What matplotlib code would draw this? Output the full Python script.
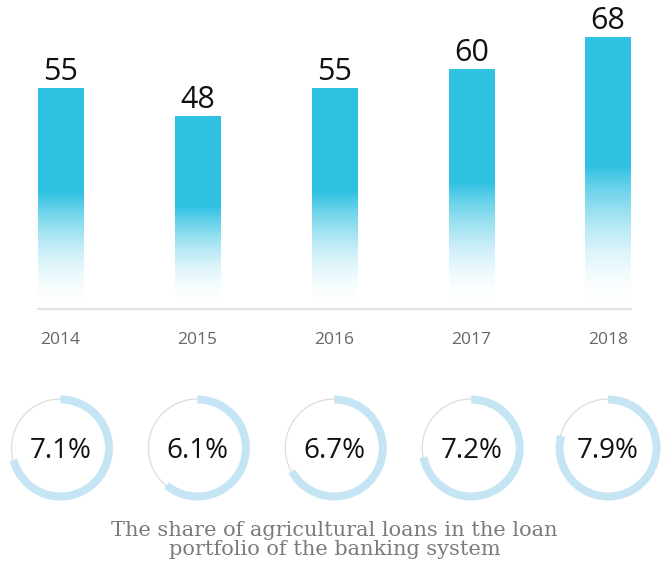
import numpy as np
import matplotlib
matplotlib.use('Agg')
from matplotlib import pyplot as plt
from matplotlib.patches import Wedge, Circle

years = ['2014', '2015', '2016', '2017', '2018']
loans = [55, 48, 55, 60, 68]
shares = [7.1, 6.1, 6.7, 7.2, 7.9]
share_max = 10.0  # full ring corresponds to 10%
caption = 'The share of agricultural loans in the loan\nportfolio of the banking system'

BAR_COLOR = np.array([0.19, 0.76, 0.89])
RING_COLOR = '#C5E5F4'
W, H = 669, 568

plt.rcParams['font.family'] = ['Open Sans', 'DejaVu Sans']

fig = plt.figure(figsize=(W / 100, H / 100), dpi=100)
ax = fig.add_axes([0, (H - 320) / H, 1, 320 / H])
x = np.arange(len(years))
bar_width = 0.33
bars = ax.bar(x, loans, width=bar_width, color='none')

# vertical gradient: bottom fades to white
t = np.linspace(0, 1, 256)[:, None]
alpha = np.clip(t / 0.52, 0, 1) ** 1.8
grad = np.zeros((256, 1, 4))
grad[..., :3] = BAR_COLOR
grad[..., 3] = alpha
for bar in bars:
    x0, h = bar.get_x(), bar.get_height()
    ax.imshow(grad, extent=(x0, x0 + bar.get_width(), 0, h), origin='lower',
              aspect='auto', interpolation='bilinear')
    ax.text(x0 + bar.get_width() / 2, h + 2.2, f'{h:g}', ha='center', va='baseline',
            fontsize=22, color='#111111')

ax.plot([x[0] - bar_width / 2 - 0.01, x[-1] + bar_width / 2 + 0.01], [-1, -1],
        color='#e2e2e2', lw=1.5, solid_capstyle='butt')

ax.set_xlim(-0.442, 4.445)
ax.set_ylim(-3.82, 77.6)
ax.set_xticks(x, years)
ax.tick_params(axis='x', length=0, pad=9, labelsize=12.5, labelcolor='#666666')
ax.set_yticks([])
for spine in ax.spines.values():
    spine.set_visible(False)

# donut rings below each bar
fig.canvas.draw()
for i, share in enumerate(shares):
    cx = ax.transData.transform((x[i], 0))[0]
    rax = fig.add_axes([(cx - 60) / W, (H - 448 - 60) / H, 120 / W, 120 / H])
    rax.set_xlim(-60, 60)
    rax.set_ylim(-60, 60)
    rax.set_aspect('equal')
    rax.axis('off')
    rax.add_patch(Circle((0, 0), 49, fill=False, ec='#dcdcdc', lw=0.9))
    rax.add_patch(Wedge((0, 0), 52.5, 90 - 360 * share / share_max, 90, width=8,
                        color=RING_COLOR, lw=0))
    rax.text(0, -3, f'{share}%', ha='center', va='center', fontsize=20, color='#111111')

fig.text(0.5, (H - 540) / H, caption, ha='center', va='center', fontsize=15,
         color='#7a7a7a', family=['DejaVu Serif'], linespacing=0.95)

fig.savefig('out.png', dpi=100, facecolor='white')
